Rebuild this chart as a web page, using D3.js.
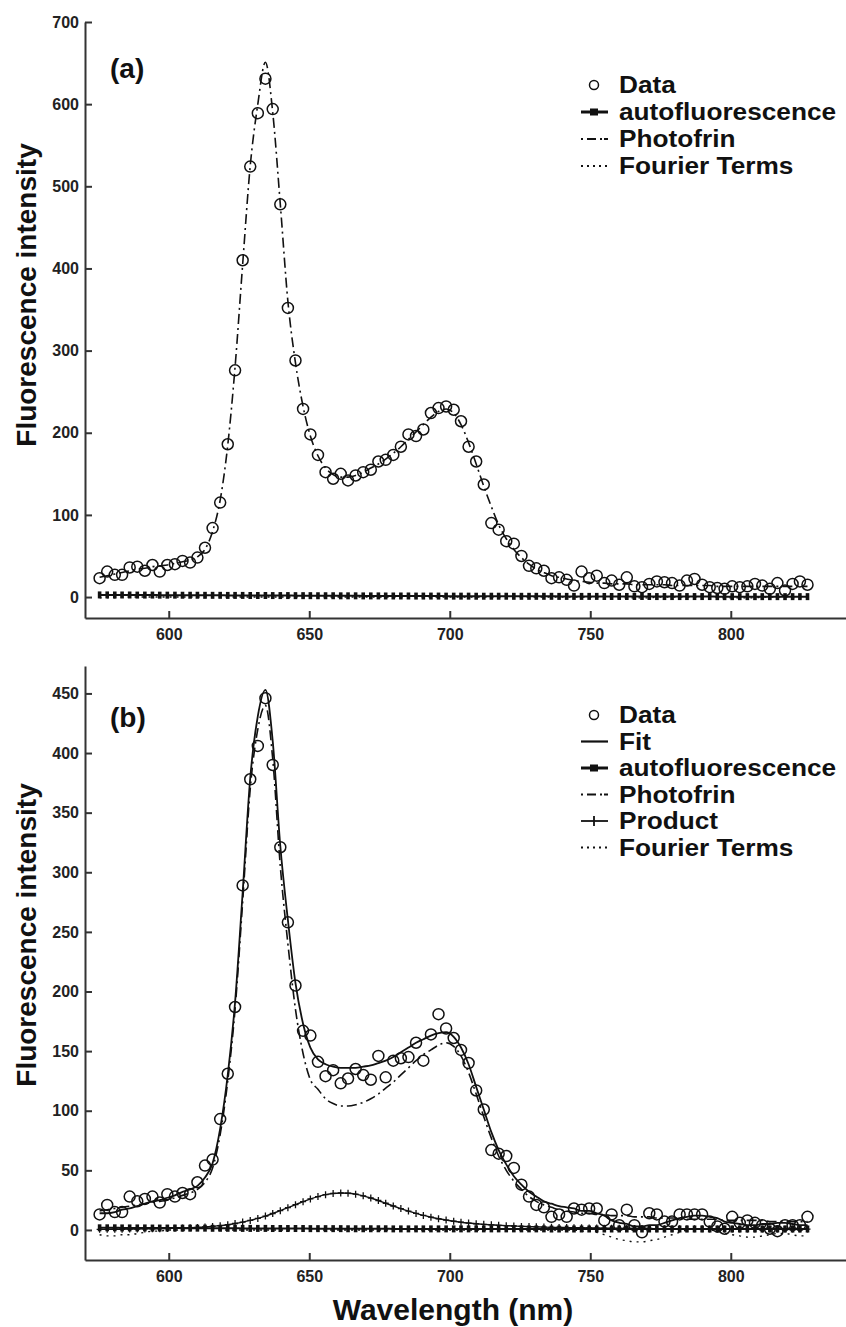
<!DOCTYPE html>
<html>
<head>
<meta charset="utf-8">
<script src="https://d3js.org/d3.v7.min.js"></script>
<style>
  body { margin: 0; background: #fff; }
  svg { display: block; }
  text { font-family: "Liberation Sans", Arial, sans-serif; font-weight: bold; fill: #111; }
  .axis path, .axis line { stroke: #333; stroke-width: 2; }
  .axis text { font-size: 16px; font-family: "Liberation Sans", Arial, sans-serif; font-weight: bold; fill: #222; }
</style>
</head>
<body>
<svg id="chart" width="846" height="1327"></svg>
<script>
// wavelength grid (nm), same for both spectra
var wavelengths = [575.4,578.1,580.8,583.4,586.1,588.8,591.5,594.2,596.8,599.5,
  602.2,604.9,607.6,610.2,612.9,615.6,618.3,621.0,623.6,626.3,
  629.0,631.7,634.4,637.0,639.7,642.4,645.1,647.8,650.4,653.1,
  655.8,658.5,661.2,663.8,666.5,669.2,671.9,674.6,677.2,679.9,
  682.6,685.3,688.0,690.6,693.3,696.0,698.7,701.4,704.0,706.7,
  709.4,712.1,714.8,717.4,720.1,722.8,725.5,728.2,730.8,733.5,
  736.2,738.9,741.6,744.2,746.9,749.6,752.3,755.0,757.6,760.3,
  763.0,765.7,768.4,771.0,773.7,776.4,779.1,781.8,784.4,787.1,
  789.8,792.5,795.2,797.8,800.5,803.2,805.9,808.6,811.2,813.9,
  816.6,819.3,822.0,824.6,827.3];

var xTicks = [600, 650, 700, 750, 800];

// panel (a)
var yTicksA = [0, 100, 200, 300, 400, 500, 600, 700];
var dataA = [23,31,27,27,36,37,32,39,31,39,
  40,44,42,48,60,84,115,186,276,410,
  524,589,631,594,478,352,288,229,198,173,
  152,144,150,142,148,152,155,165,167,173,
  183,198,196,204,224,230,232,228,214,183,
  165,137,90,82,68,65,50,38,35,32,
  23,24,21,14,31,23,26,17,20,15,
  24,13,12,16,19,18,17,14,20,22,
  15,12,11,10,13,12,13,16,14,10,
  17,8,16,19,15];
var photofrinA = [24,26,28,30,32,34,35,37,38,39,
  41,43,45,49,58,80,118,185,280,405,
  525,600,651,590,478,360,285,232,196,172,
  157,149,146,146,148,152,157,162,168,175,
  183,192,201,210,219,226,229,224,210,188,
  162,135,110,88,71,58,48,40,34,30,
  26,24,22,20,19,18,17,17,16,16,
  16,15,15,15,15,15,14,14,14,14,
  14,14,13,13,13,13,13,13,13,13,
  13,13,13,13,13];
var autoA = [2.6,2.6,2.5,2.5,2.5,2.4,2.4,2.4,2.3,2.3,
  2.3,2.2,2.2,2.2,2.1,2.1,2.1,2.0,2.0,2.0,
  1.9,1.9,1.9,1.8,1.8,1.8,1.7,1.7,1.7,1.6,
  1.6,1.6,1.5,1.5,1.5,1.4,1.4,1.4,1.3,1.3,
  1.3,1.3,1.2,1.2,1.2,1.2,1.1,1.1,1.1,1.1,
  1.0,1.0,1.0,1.0,1.0,0.9,0.9,0.9,0.9,0.9,
  0.9,0.8,0.8,0.8,0.8,0.8,0.8,0.7,0.7,0.7,
  0.7,0.7,0.7,0.7,0.6,0.6,0.6,0.6,0.6,0.6,
  0.6,0.6,0.5,0.5,0.5,0.5,0.5,0.5,0.5,0.5,
  0.5,0.5,0.5,0.5,0.5];
var fourierA = [-1,-1,-1,0,0,0,0,0,0,0,
  0,0,0,0,0,0,0,0,0,0,
  0,0,0,0,0,0,0,0,0,0,
  0,0,0,0,0,0,0,0,0,0,
  0,0,0,0,0,0,0,0,0,0,
  0,0,0,0,0,0,0,0,0,0,
  0,0,0,0,0,0,0,-1,-1,-1,
  -1,-1,-1,-1,0,0,0,0,0,0,
  0,0,0,-1,-1,-1,-1,-1,0,0,
  0,0,-1,-1,-1];

// panel (b)
var yTicksB = [0, 50, 100, 150, 200, 250, 300, 350, 400, 450];
var dataB = [13,21,15,15,28,24,26,28,23,30,
  28,31,30,40,54,59,93,131,187,289,
  378,406,446,390,321,258,205,167,163,141,
  129,134,123,127,135,130,126,146,128,142,
  144,145,157,142,164,181,169,161,151,140,
  117,101,67,64,62,52,38,28,21,19,
  11,13,11,18,17,18,18,8,13,4,
  17,4,-2,14,13,7,7,13,13,13,
  13,7,3,1,11,6,8,6,4,1,
  -1,4,4,4,11];
var fitB = [14,14,15,17,18,20,22,24,25,27,
  29,32,34,37,44,56,85,130,191,283,
  379,431,453,410,322,260,207,173,153,143,
  139,137,136,136,136,137,138,140,142,145,
  149,153,157,160,163,165,166,162,153,139,
  120,101,82,67,55,45,38,32,28,24,
  22,20,19,18,16,16,14,12,8,6,
  5,3,3,4,4,6,8,10,11,12,
  12,11,10,7,6,5,4,4,5,5,
  6,6,5,4,4];
var photofrinB = [16,17,18,19,20,21,22,23,24,25,
  27,29,31,34,40,52,80,125,185,275,
  370,420,440,395,305,240,185,148,126,118,
  110,106,104,104,105,107,110,114,119,124,
  130,136,142,147,151,155,157,154,146,132,
  114,95,77,62,50,41,34,28,24,21,
  19,17,16,15,14,14,13,13,12,12,
  12,11,11,11,10,10,10,10,9,9,
  9,9,9,8,8,8,8,8,8,7,
  7,7,7,7,7];
var productB = [0.5,0.5,0.6,0.6,0.7,0.8,0.9,1.0,1.1,1.2,
  1.4,1.6,1.8,2.1,2.5,3.0,3.6,4.4,5.4,6.6,
  8.0,9.7,11.6,13.8,16.2,18.7,21.2,23.7,26.0,28.0,
  29.6,30.6,31.0,30.8,30.0,28.6,26.8,24.7,22.4,20.1,
  17.9,15.8,13.9,12.2,10.7,9.4,8.3,7.3,6.5,5.8,
  5.2,4.7,4.3,3.9,3.6,3.3,3.0,2.8,2.6,2.4,
  2.2,2.1,2.0,1.9,1.8,1.7,1.6,1.5,1.4,1.4,
  1.3,1.3,1.2,1.2,1.1,1.1,1.1,1.0,1.0,1.0,
  1.0,0.9,0.9,0.9,0.9,0.9,0.8,0.8,0.8,0.8,
  0.8,0.8,0.7,0.7,0.7];
var autoB = [1.8,1.8,1.8,1.7,1.7,1.7,1.7,1.6,1.6,1.6,
  1.6,1.5,1.5,1.5,1.5,1.4,1.4,1.4,1.4,1.3,
  1.3,1.3,1.3,1.2,1.2,1.2,1.2,1.2,1.1,1.1,
  1.1,1.1,1.1,1.0,1.0,1.0,1.0,1.0,1.0,0.9,
  0.9,0.9,0.9,0.9,0.9,0.9,0.9,0.9,0.9,0.9,
  0.9,0.9,0.9,0.9,0.9,0.9,0.9,0.9,0.9,0.9,
  0.8,0.8,0.8,0.8,0.8,0.8,0.8,0.8,0.8,0.8,
  0.8,0.8,0.8,0.8,0.8,0.8,0.8,0.8,0.8,0.8,
  0.8,0.8,0.8,0.8,0.8,0.8,0.8,0.8,0.8,0.8,
  0.8,0.8,0.8,0.8,0.8];
var fourierB = [-4,-5,-5,-4,-4,-3,-2,-1,-1,0,
  0,0,0,0,0,0,0,0,0,0,
  0,0,0,0,0,0,0,0,0,0,
  0,0,0,0,0,0,0,0,0,0,
  0,0,0,0,0,0,0,0,0,0,
  0,0,0,0,0,0,0,0,0,0,
  0,0,0,0,-1,-1,-2,-4,-6,-8,
  -9,-10,-10,-9,-8,-6,-4,-2,0,1,
  1,0,-1,-3,-4,-5,-6,-6,-5,-4,
  -3,-3,-4,-5,-5];

var legendA = ['Data', 'autofluorescence', 'Photofrin', 'Fourier Terms'];
var legendB = ['Data', 'Fit', 'autofluorescence', 'Photofrin', 'Product', 'Fourier Terms'];

var svg = d3.select('#chart');
var x = d3.scaleLinear().domain([570.2, 841]).range([85, 846]);

var styles = {
  'Fourier Terms': {dash: '2,5', width: 1.4},
  'Photofrin': {dash: '10,4,2,4', width: 1.6},
  'Fit': {dash: null, width: 1.8},
  'autofluorescence': {dash: null, width: 2},
  'Product': {dash: null, width: 1.4}
};

function drawPanel(p) {
  var y = d3.scaleLinear().domain(p.yDomain).range([p.bottom, p.top]);
  var g = svg.append('g');

  g.append('g').attr('class', 'axis')
    .attr('transform', 'translate(0,' + p.bottom + ')')
    .call(d3.axisBottom(x).tickValues(xTicks).tickSizeInner(-7).tickSizeOuter(0).tickPadding(11));
  g.append('g').attr('class', 'axis')
    .attr('transform', 'translate(85,0)')
    .call(d3.axisLeft(y).tickValues(p.yTicks).tickSizeInner(-7).tickSizeOuter(0).tickPadding(6));

  var line = d3.line()
    .x(function(d, i) { return x(wavelengths[i]); })
    .y(function(d) { return y(d); })
    .curve(d3.curveMonotoneX);

  // lines, back to front
  p.series.forEach(function(s) {
    var st = styles[s.name];
    g.append('path').datum(s.values)
      .attr('d', line)
      .attr('fill', 'none')
      .attr('stroke', '#111')
      .attr('stroke-width', st.width)
      .attr('stroke-dasharray', st.dash);
    if (s.name === 'autofluorescence') {
      g.selectAll(null).data(s.values).enter().append('rect')
        .attr('x', function(d, i) { return x(wavelengths[i]) - 1.8; })
        .attr('y', function(d) { return y(d) - 3.5; })
        .attr('width', 3.6).attr('height', 7)
        .attr('fill', '#111');
    }
    if (s.name === 'Product') {
      g.selectAll(null).data(s.values).enter().append('path')
        .attr('d', function(d, i) {
          var cx = x(wavelengths[i]), cy = y(d);
          return 'M' + (cx - 3) + ',' + cy + 'H' + (cx + 3) + 'M' + cx + ',' + (cy - 3.5) + 'V' + (cy + 3.5);
        })
        .attr('stroke', '#111').attr('stroke-width', 1.3);
    }
  });

  g.selectAll(null).data(p.data).enter().append('circle')
    .attr('cx', function(d, i) { return x(wavelengths[i]); })
    .attr('cy', function(d) { return y(d); })
    .attr('r', 5.5)
    .attr('fill', 'none')
    .attr('stroke', '#111')
    .attr('stroke-width', 1.5);

  // panel tag
  g.append('text').attr('x', 110).attr('y', p.tagY)
    .attr('font-size', 28).text(p.tag);

  // y label
  g.append('text')
    .attr('transform', 'translate(36,' + p.labelY + ') rotate(-90)')
    .attr('text-anchor', 'middle')
    .attr('font-size', 28)
    .text('Fluorescence intensity');

  // legend
  var lg = g.append('g');
  p.legend.forEach(function(name, i) {
    var by = p.legendTop + i * p.legendStep;
    var my = by - 8;
    var row = lg.append('g');
    if (name === 'Data') {
      row.append('circle').attr('cx', 594).attr('cy', my).attr('r', 4.5)
        .attr('fill', 'none').attr('stroke', '#111').attr('stroke-width', 1.5);
    } else {
      row.append('line').attr('x1', 581).attr('x2', 608).attr('y1', my).attr('y2', my)
        .attr('stroke', '#111')
        .attr('stroke-width', name === 'autofluorescence' ? 3 : (name === 'Fit' ? 2.2 : 1.8))
        .attr('stroke-dasharray', name === 'Photofrin' ? '2,4,9,4,2' : (name === 'Fourier Terms' ? '2,4' : null));
      if (name === 'autofluorescence') {
        row.append('rect').attr('x', 590).attr('y', my - 3.5).attr('width', 8).attr('height', 7).attr('fill', '#111');
      }
      if (name === 'Product') {
        row.append('line').attr('x1', 594).attr('x2', 594).attr('y1', my - 5).attr('y2', my + 5)
          .attr('stroke', '#111').attr('stroke-width', 1.8);
      }
    }
    var t = row.append('text').attr('x', 619).attr('y', by).attr('font-size', 23).text(name);
    // reference lettering is a little wider than Liberation Sans
    var w = t.node().getComputedTextLength();
    t.attr('textLength', w * 1.14).attr('lengthAdjust', 'spacingAndGlyphs');
  });

  return y;
}

drawPanel({
  top: 22, bottom: 618, yDomain: [-25.5, 700], yTicks: yTicksA,
  tag: '(a)', tagY: 78, labelY: 295,
  legend: legendA, legendTop: 93, legendStep: 27,
  data: dataA,
  series: [
    {name: 'Fourier Terms', values: fourierA},
    {name: 'autofluorescence', values: autoA},
    {name: 'Photofrin', values: photofrinA}
  ]
});

drawPanel({
  top: 666, bottom: 1260, yDomain: [-25.2, 473], yTicks: yTicksB,
  tag: '(b)', tagY: 727, labelY: 935,
  legend: legendB, legendTop: 723, legendStep: 26.5,
  data: dataB,
  series: [
    {name: 'Fourier Terms', values: fourierB},
    {name: 'autofluorescence', values: autoB},
    {name: 'Product', values: productB},
    {name: 'Photofrin', values: photofrinB},
    {name: 'Fit', values: fitB}
  ]
});

svg.append('text')
  .attr('x', 453).attr('y', 1320)
  .attr('text-anchor', 'middle')
  .attr('font-size', 30)
  .text('Wavelength (nm)');
</script>
</body>
</html>
